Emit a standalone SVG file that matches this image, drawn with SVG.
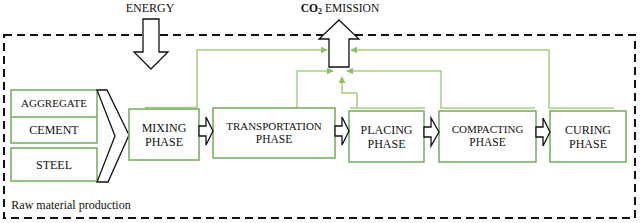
<svg xmlns="http://www.w3.org/2000/svg" width="640" height="223" viewBox="0 0 640 223">
<defs>
<marker id="ah" viewBox="0 0 10 10" refX="9" refY="5" markerWidth="7" markerHeight="7" markerUnits="userSpaceOnUse" orient="auto">
<path d="M0,0 L10,5 L0,10 Z" fill="#8dc15f"/>
</marker>
<style>
.t{font-family:"Liberation Serif","Times New Roman",serif;fill:#111;text-anchor:middle}
.box{fill:#fff;stroke:#72ab5e;stroke-width:1.5}
.conn{fill:none;stroke:#a5d07f;stroke-width:1.5}
.blk{fill:#fff;stroke:#111;stroke-width:1.3;stroke-linejoin:miter}
</style>
</defs>
<rect width="640" height="223" fill="#fff"/>
<rect x="4" y="35" width="631" height="183" fill="none" stroke="#111" stroke-width="2" stroke-dasharray="8,5"/>
<g id="energy">
<text class="t" x="150" y="12" font-size="12">ENERGY</text>
<polygon class="blk" points="143,19 159,19 159,52 168,52 151,69 134,52 143,52"/>
</g>
<g id="co2">
<text class="t" x="340" y="12" font-size="11.5"><tspan font-weight="bold">CO<tspan font-size="8" dy="2">2</tspan></tspan><tspan dy="-2"> EMISSION</tspan></text>
<polygon class="blk" points="339,20 359,39 349,39 349,67 329,67 329,39 319,39"/>
</g>
<g id="connectors">
<path class="conn" d="M145,107.5 H197 V50 H327" marker-end="url(#ah)"/>
<path class="conn" d="M297,107.5 V71 H333" marker-end="url(#ah)"/>
<path class="conn" d="M350,108 H425 M357,108 V93 H342 V77" marker-end="url(#ah)"/>
<path class="conn" d="M535,108 H441 V71 H347" marker-end="url(#ah)"/>
<path class="conn" d="M614,108 H549 V50 H351" marker-end="url(#ah)"/>
</g>
<g id="raw-aggregate-cement">
<rect class="box" x="11" y="90" width="86" height="53"/>
<line x1="11" y1="117" x2="97" y2="117" stroke="#72ab5e" stroke-width="1.5"/>
<text class="t" x="54" y="107" font-size="11">AGGREGATE</text>
<text class="t" x="54" y="134" font-size="12">CEMENT</text>
</g>
<g id="raw-steel">
<rect class="box" x="11" y="148" width="86" height="33"/>
<text class="t" x="54" y="169" font-size="12">STEEL</text>
</g>
<g id="chevron">
<polygon class="blk" points="97,90 107,90 129,135 108,182 97,182 115,136"/>
</g>
<text class="t" x="71" y="209" font-size="12">Raw material production</text>
<g id="mixing">
<rect class="box" x="129" y="109" width="70" height="51"/>
<text class="t" x="164" y="132" font-size="12">MIXING</text>
<text class="t" x="164" y="146" font-size="12">PHASE</text>
</g>
<g id="transportation">
<rect class="box" x="213" y="108" width="122" height="50"/>
<text class="t" x="274" y="130" font-size="11">TRANSPORTATION</text>
<text class="t" x="274" y="143" font-size="11.5">PHASE</text>
</g>
<g id="placing">
<rect class="box" x="349" y="111" width="75" height="51"/>
<text class="t" x="386.5" y="134" font-size="12">PLACING</text>
<text class="t" x="386.5" y="148" font-size="12">PHASE</text>
</g>
<g id="compacting">
<rect class="box" x="439" y="111" width="97" height="51"/>
<text class="t" x="487.5" y="133" font-size="11">COMPACTING</text>
<text class="t" x="487.5" y="146" font-size="11.5">PHASE</text>
</g>
<g id="curing">
<rect class="box" x="550" y="111" width="76" height="51"/>
<text class="t" x="588" y="134" font-size="12">CURING</text>
<text class="t" x="588" y="148" font-size="12">PHASE</text>
</g>
<g id="flow-arrows">
<polygon class="blk" points="199,126 206,126 206,117 213,131 206,145 206,136 199,136"/>
<polygon class="blk" points="335,126 342,126 342,117 349,131 342,145 342,136 335,136"/>
<polygon class="blk" points="424,127 431,127 431,118 439,132 431,146 431,137 424,137"/>
<polygon class="blk" points="536,127 543,127 543,118 550,132 543,146 543,137 536,137"/>
</g>
</svg>
